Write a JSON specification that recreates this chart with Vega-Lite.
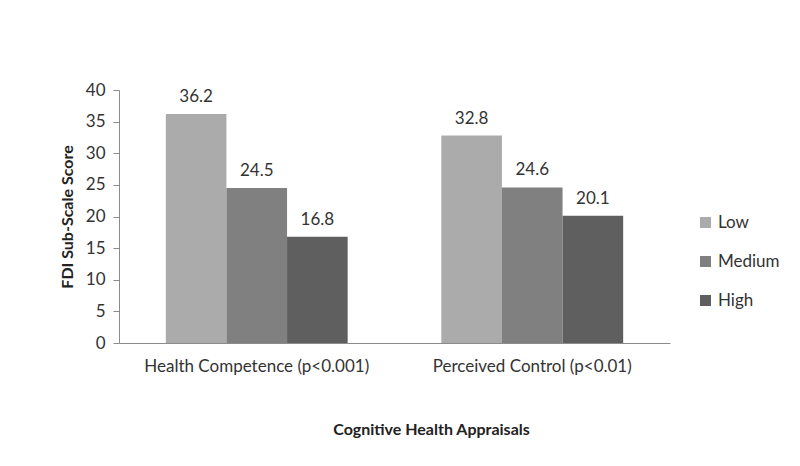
{
  "$schema": "https://vega.github.io/schema/vega-lite/v6.json",
  "autosize": "none",
  "width": 551,
  "height": 253,
  "padding": {"left": 119, "top": 90, "right": 130, "bottom": 123},
  "background": "white",
  "config": {
    "view": {"stroke": null},
    "font": "Lato",
    "axis": {"labelFont": "Lato", "titleFont": "Lato", "labelColor": "#333333", "titleColor": "#222222", "domainColor": "#8c8c8c", "tickColor": "#8c8c8c"}
  },
  "data": {
    "values": [
      {"appraisal": "Health Competence (p<0.001)", "level": "Low", "score": 36.2},
      {"appraisal": "Health Competence (p<0.001)", "level": "Medium", "score": 24.5},
      {"appraisal": "Health Competence (p<0.001)", "level": "High", "score": 16.8},
      {"appraisal": "Perceived Control (p<0.01)", "level": "Low", "score": 32.8},
      {"appraisal": "Perceived Control (p<0.01)", "level": "Medium", "score": 24.6},
      {"appraisal": "Perceived Control (p<0.01)", "level": "High", "score": 20.1}
    ]
  },
  "encoding": {
    "x": {
      "field": "appraisal", "type": "nominal", "sort": null,
      "scale": {"paddingInner": 0.34, "paddingOuter": 0.17},
      "axis": {"title": "Cognitive Health Appraisals", "labelAngle": 0, "labelFontSize": 17, "labelLimit": 0, "labelPadding": 15, "ticks": false, "titleFontSize": 16, "titleFontWeight": "bold", "titleX": 312, "titleY": 91, "titleBaseline": "alphabetic"}
    },
    "xOffset": {"field": "level", "type": "nominal", "sort": ["Low", "Medium", "High"]},
    "y": {
      "field": "score", "type": "quantitative",
      "scale": {"domain": [0, 40], "nice": false},
      "axis": {"title": "FDI Sub-Scale Score", "values": [0, 5, 10, 15, 20, 25, 30, 35, 40], "grid": false, "labelFontSize": 17, "labelPadding": 8, "tickSize": 6, "titleFontSize": 16, "titleFontWeight": "bold", "titlePadding": 10}
    }
  },
  "layer": [
    {
      "mark": {"type": "bar"},
      "encoding": {
        "color": {
          "field": "level", "type": "nominal", "sort": ["Low", "Medium", "High"],
          "scale": {"domain": ["Low", "Medium", "High"], "range": ["#ababab", "#808080", "#5f5f5f"]},
          "legend": {"title": null, "orient": "none", "legendX": 578, "legendY": 124, "symbolType": "square", "symbolSize": 121, "symbolStrokeWidth": 0, "labelFontSize": 17, "labelColor": "#333333", "labelFont": "Lato", "rowPadding": 21, "labelOffset": 4}
        }
      }
    },
    {
      "mark": {"type": "text", "baseline": "bottom", "dy": -8, "fontSize": 17, "color": "#333333", "font": "Lato"},
      "encoding": {"text": {"field": "score", "type": "quantitative", "format": ".1f"}}
    }
  ]
}
